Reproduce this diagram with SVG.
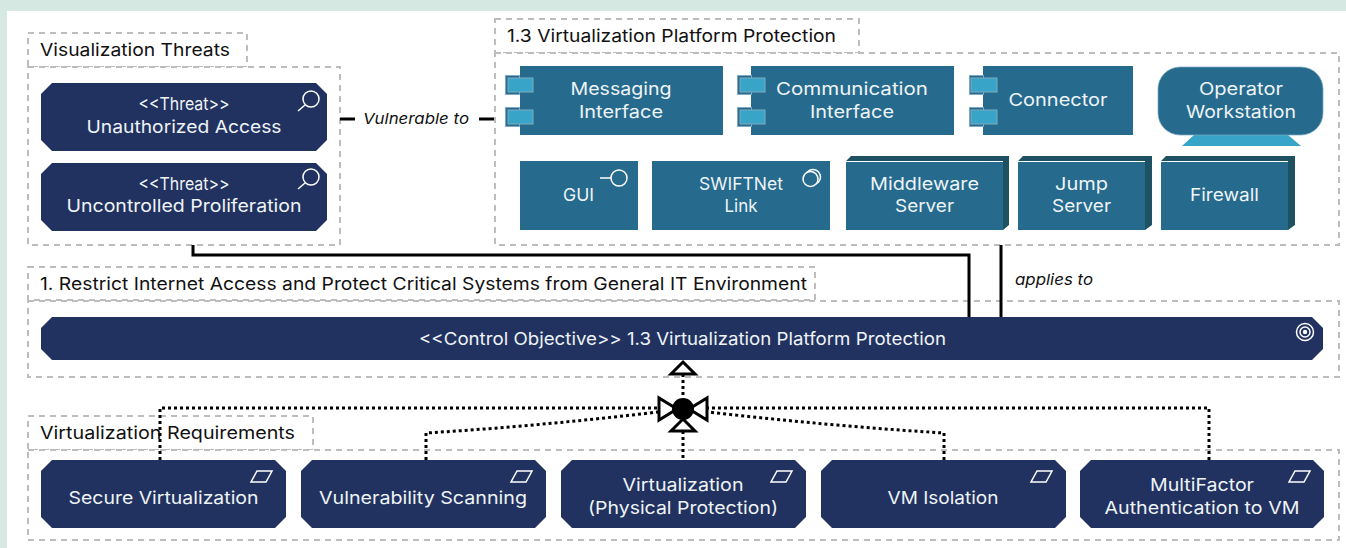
<svg xmlns="http://www.w3.org/2000/svg" width="1346" height="548" viewBox="0 0 1346 548">
<style>
text{font-family:"Inter","Noto Sans","Liberation Sans",sans-serif;font-size:17.5px}
.w{fill:#eef4f6;text-anchor:middle}
.k{fill:#111;font-size:17.5px}
.i{fill:#111;font-style:italic;font-size:15px}
.g{fill:#fff;stroke:#bdbdbd;stroke-width:2;stroke-dasharray:6 5}
.n{fill:#223260}
.t{fill:#266a8e}
.tab{fill:#38a5c8;stroke:#7fa9c0;stroke-width:1}
.d{fill:#1e5162}
.ic{fill:none;stroke:#fff;stroke-width:1.5}
.s{fill:none;stroke:#000;stroke-width:3}
.o{fill:none;stroke:#000;stroke-width:3;stroke-dasharray:3 3}
.a{fill:#fff;stroke:#000;stroke-width:3}
</style>
<rect width="1346" height="548" fill="#d5e8e2"/>
<rect x="7" y="11" width="1339" height="537" fill="#fff"/>
<g id="groups">
<rect class="g" x="28" y="33" width="219" height="34"/>
<rect class="g" x="28" y="67" width="312" height="178"/>
<rect class="g" x="495" y="19" width="364" height="34"/>
<rect class="g" x="495" y="53" width="844" height="192"/>
<rect class="g" x="28" y="267" width="787" height="33"/>
<rect class="g" x="28" y="301" width="1311" height="76"/>
<rect class="g" x="28" y="416" width="285" height="34"/>
<rect class="g" x="28" y="450" width="1311" height="90"/>
<text class="k" x="40" y="56" textLength="190" lengthAdjust="spacingAndGlyphs">Visualization Threats</text>
<text class="k" x="507" y="42" textLength="329" lengthAdjust="spacingAndGlyphs">1.3 Virtualization Platform Protection</text>
<text class="k" x="40" y="290" textLength="767" lengthAdjust="spacingAndGlyphs">1. Restrict Internet Access and Protect Critical Systems from General IT Environment</text>
<text class="k" x="40" y="439" textLength="255" lengthAdjust="spacingAndGlyphs">Virtualization Requirements</text>
</g>
<g id="connectors">
<path class="s" d="M193 245V255H969V317"/>
<path class="s" d="M1001 245V317"/>
<path class="s" d="M340 119H355M479 119H494"/>
<path class="o" d="M683 374V398M683 431V460"/>
<path class="o" d="M160 460V408H658"/>
<path class="o" d="M426 460V433Q540 426 658 412"/>
<path class="o" d="M944 460V433Q830 426 708 412"/>
<path class="o" d="M1209 460V408H708"/>
<path class="a" d="M683 362L695 374H671Z"/>
<path class="a" d="M659 398V420L677 409Z"/>
<path class="a" d="M707 398V420L689 409Z"/>
<path class="a" d="M683 419L695 431H671Z"/>
<circle cx="683" cy="409" r="11" fill="#000"/>
<text class="i" x="363" y="124" textLength="106" lengthAdjust="spacingAndGlyphs">Vulnerable to</text>
<text class="i" x="1015" y="285" textLength="78" lengthAdjust="spacingAndGlyphs">applies to</text>
</g>
<g id="threat1"><path class="n" d="M52 83H316L327 94V140L316 151H52L41 140V94Z"/>
<circle class="ic" cx="311" cy="99" r="8"/><path class="ic" d="M305 105L298 111"/>
<text class="w" x="184" y="110" textLength="91" lengthAdjust="spacingAndGlyphs">&lt;&lt;Threat&gt;&gt;</text>
<text class="w" x="184" y="133" textLength="195" lengthAdjust="spacingAndGlyphs">Unauthorized Access</text></g>
<g id="threat2"><path class="n" d="M52 163H316L327 174V220L316 231H52L41 220V174Z"/>
<circle class="ic" cx="311" cy="177" r="8"/><path class="ic" d="M305 183L298 189"/>
<text class="w" x="184" y="190" textLength="91" lengthAdjust="spacingAndGlyphs">&lt;&lt;Threat&gt;&gt;</text>
<text class="w" x="184" y="212" textLength="235" lengthAdjust="spacingAndGlyphs">Uncontrolled Proliferation</text></g>
<g id="messaging"><rect class="t" x="520" y="66" width="203" height="69"/>
<rect class="tab" x="505.500" y="75.500" width="14" height="19" style="fill:#266a8e"/><rect class="tab" x="505.500" y="107.500" width="14" height="19" style="fill:#266a8e"/>
<rect class="tab" x="508" y="78" width="25" height="14"/><rect class="tab" x="508" y="110" width="25" height="14"/>
<text class="w" x="621" y="95" textLength="101" lengthAdjust="spacingAndGlyphs">Messaging</text>
<text class="w" x="621" y="118" textLength="84" lengthAdjust="spacingAndGlyphs">Interface</text></g>
<g id="communication"><rect class="t" x="751" y="66" width="203" height="69"/>
<rect class="tab" x="737.500" y="75.500" width="14" height="19" style="fill:#266a8e"/><rect class="tab" x="737.500" y="107.500" width="14" height="19" style="fill:#266a8e"/>
<rect class="tab" x="740" y="78" width="25" height="14"/><rect class="tab" x="740" y="110" width="25" height="14"/>
<text class="w" x="852" y="95" textLength="152" lengthAdjust="spacingAndGlyphs">Communication</text>
<text class="w" x="852" y="118" textLength="84" lengthAdjust="spacingAndGlyphs">Interface</text></g>
<g id="connector"><rect class="t" x="983" y="66" width="150" height="69"/>
<rect class="tab" x="969.500" y="75.500" width="14" height="19" style="fill:#266a8e"/><rect class="tab" x="969.500" y="107.500" width="14" height="19" style="fill:#266a8e"/>
<rect class="tab" x="971" y="78" width="26" height="14"/><rect class="tab" x="971" y="110" width="26" height="14"/>
<text class="w" x="1058" y="106" textLength="99" lengthAdjust="spacingAndGlyphs">Connector</text></g>
<g id="workstation"><path d="M1194 135H1288L1301 146H1182Z" fill="#38a5c8"/>
<rect x="1158" y="67" width="165" height="68" rx="22" fill="#266a8e" stroke="#7fa9c0" stroke-width=".7"/>
<text class="w" x="1241" y="95" textLength="84" lengthAdjust="spacingAndGlyphs">Operator</text>
<text class="w" x="1241" y="118" textLength="110" lengthAdjust="spacingAndGlyphs">Workstation</text></g>
<g id="gui"><rect class="t" x="520" y="161" width="118" height="69"/>
<circle class="ic" cx="619" cy="178" r="8"/><path class="ic" d="M600 178H611"/>
<text class="w" x="578.500" y="201" textLength="31" lengthAdjust="spacingAndGlyphs">GUI</text></g>
<g id="swiftnet"><rect class="t" x="652" y="161" width="178" height="69"/>
<circle class="ic" cx="813" cy="177" r="7.500"/><circle class="ic" cx="810.500" cy="179" r="7.500" style="fill:#266a8e"/>
<text class="w" x="741" y="190" textLength="84" lengthAdjust="spacingAndGlyphs">SWIFTNet</text>
<text class="w" x="741" y="212" textLength="33" lengthAdjust="spacingAndGlyphs">Link</text></g>
<g id="middleware"><path class="d" d="M846 161L851 156H1009V225L1003 230V161Z"/><rect class="t" x="846" y="162" width="157" height="68"/>
<text class="w" x="924.500" y="190" textLength="109" lengthAdjust="spacingAndGlyphs">Middleware</text>
<text class="w" x="924.500" y="212" textLength="59" lengthAdjust="spacingAndGlyphs">Server</text></g>
<g id="jump"><path class="d" d="M1018 161L1023 156H1152V225L1145 230V161Z"/><rect class="t" x="1018" y="162" width="127" height="68"/>
<text class="w" x="1081.500" y="190" textLength="53" lengthAdjust="spacingAndGlyphs">Jump</text>
<text class="w" x="1081.500" y="212" textLength="59" lengthAdjust="spacingAndGlyphs">Server</text></g>
<g id="firewall"><path class="d" d="M1161 161L1166 156H1295V225L1288 230V161Z"/><rect class="t" x="1161" y="162" width="127" height="68"/>
<text class="w" x="1224.500" y="201" textLength="69" lengthAdjust="spacingAndGlyphs">Firewall</text></g>
<g id="objective"><path class="n" d="M52 317H1312L1323 328V349L1312 360H52L41 349V328Z"/>
<circle class="ic" cx="1305" cy="332" r="8.500"/><circle class="ic" cx="1305" cy="332" r="5"/><circle cx="1305" cy="332" r="2.200" fill="#fff"/>
<text class="w" x="682.500" y="345" textLength="527" lengthAdjust="spacingAndGlyphs">&lt;&lt;Control Objective&gt;&gt; 1.3 Virtualization Platform Protection</text></g>
<g id="req1"><path class="n" d="M52 460H275L286 471V517L275 528H52L41 517V471Z"/>
<path class="ic" d="M257 472L262 482H251ZM257 472H272L267 482H251" style="display:none"/><path class="ic" d="M257 471H272L266 482H251Z"/>
<text class="w" x="163.500" y="504" textLength="190" lengthAdjust="spacingAndGlyphs">Secure Virtualization</text></g>
<g id="req2"><path class="n" d="M312 460H535L546 471V517L535 528H312L301 517V471Z"/>
<path class="ic" d="M517 471H532L526 482H511Z"/>
<text class="w" x="423" y="504" textLength="208" lengthAdjust="spacingAndGlyphs">Vulnerability Scanning</text></g>
<g id="req3"><path class="n" d="M572 460H795L806 471V517L795 528H572L561 517V471Z"/>
<path class="ic" d="M777 471H792L786 482H771Z"/>
<text class="w" x="683" y="491" textLength="121" lengthAdjust="spacingAndGlyphs">Virtualization</text>
<text class="w" x="683" y="514" textLength="190" lengthAdjust="spacingAndGlyphs">(Physical Protection)</text></g>
<g id="req4"><path class="n" d="M832 460H1055L1066 471V517L1055 528H832L821 517V471Z"/>
<path class="ic" d="M1037 471H1052L1046 482H1031Z"/>
<text class="w" x="943" y="504" textLength="111" lengthAdjust="spacingAndGlyphs">VM Isolation</text></g>
<g id="req5"><path class="n" d="M1091 460H1313L1324 471V517L1313 528H1091L1080 517V471Z"/>
<path class="ic" d="M1295 471H1310L1304 482H1289Z"/>
<text class="w" x="1202" y="491" textLength="104" lengthAdjust="spacingAndGlyphs">MultiFactor</text>
<text class="w" x="1202" y="514" textLength="195" lengthAdjust="spacingAndGlyphs">Authentication to VM</text></g>
</svg>
